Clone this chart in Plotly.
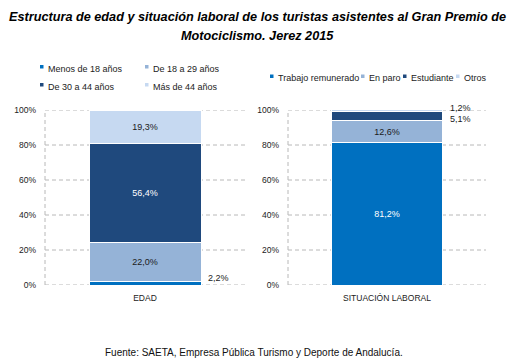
import plotly.graph_objects as go

W, H = 514, 362

title_lines = ["Estructura de edad y situación laboral de los turistas asistentes al Gran Premio de",
               "Motociclismo. Jerez 2015"]
source_text = "Fuente: SAETA, Empresa Pública Turismo y Deporte de Andalucía."

edad_categories = ["EDAD"]
edad_series = ["Menos de 18 años", "De 18 a 29 años", "De 30 a 44 años", "Más de 44 años"]
edad_values = [2.2, 22.0, 56.4, 19.3]

laboral_categories = ["SITUACIÓN LABORAL"]
laboral_series = ["Trabajo remunerado", "En paro", "Estudiante", "Otros"]
laboral_values = [81.2, 12.6, 5.1, 1.2]

y_ticks = [0, 20, 40, 60, 80, 100]
y_tick_labels = [f"{t}%" for t in y_ticks]

colors = ["#0070C0", "#95B3D7", "#1F497D", "#C6D9F1"]
text_colors = ["#ffffff", "#1a1a1a", "#ffffff", "#1a1a1a"]
SANS = "Liberation Sans"
GRID = "#b8b8b8"


def px(x):
    return x / W


def py(y):
    return 1 - y / H


def fmt(v):
    return f"{v:.1f}%".replace(".", ",")


fig = go.Figure()
annotations = []
shapes = []

panels = [
    (edad_categories, edad_series, edad_values, "x", "y"),
    (laboral_categories, laboral_series, laboral_values, "x2", "y2"),
]
# outside-label vertical shifts (px) for small segments
small_shift = {("x", 0): 5, ("x2", 2): -3, ("x2", 3): 3}

for cats, names, vals, xa, ya in panels:
    cum = 0
    for i, (name, v) in enumerate(zip(names, vals)):
        inside = v >= 10
        fig.add_trace(go.Bar(
            x=cats, y=[v], name=name, xaxis=xa, yaxis=ya,
            marker=dict(color=colors[i], line=dict(color="white", width=1)),
            text=[fmt(v)] if inside else None,
            textposition="inside" if inside else "none",
            insidetextanchor="middle", textangle=0,
            textfont=dict(family=SANS, size=9, color=text_colors[i]),
            showlegend=False, hoverinfo="skip",
        ))
        if not inside:
            annotations.append(dict(
                x=cats[0], y=cum + v / 2, xref=xa, yref=ya,
                text=fmt(v), showarrow=False, xanchor="left", yanchor="middle",
                xshift=61, yshift=small_shift.get((xa, i), 0),
                font=dict(family=SANS, size=9, color="#1a1a1a"),
            ))
        cum += v

axis_common = dict(type="category", showgrid=False, showline=False, ticks="",
                   ticklabelstandoff=6,
                   tickfont=dict(family=SANS, size=8.5, color="#222"), automargin=False)
yaxis_common = dict(range=[0, 100], tickmode="array", tickvals=y_ticks, ticktext=y_tick_labels,
                    showgrid=False, zeroline=False, showline=False, ticks="", ticklabelstandoff=8,
                    tickfont=dict(family=SANS, size=8.5, color="#222"), automargin=False,
                    domain=[py(285), py(110)])

fig.update_layout(
    width=W, height=H, autosize=False,
    margin=dict(l=0, r=0, t=0, b=0),
    paper_bgcolor="white", plot_bgcolor="white",
    barmode="stack", bargap=0.44,
    separators=",.",
    xaxis=dict(domain=[px(45), px(245)], anchor="y", **axis_common),
    yaxis=dict(anchor="x", **yaxis_common),
    xaxis2=dict(domain=[px(288), px(486)], anchor="y2", **axis_common),
    yaxis2=dict(anchor="x2", **yaxis_common),
)

# dashed gridlines and dashed left border of each plot area
for xa, ya in [("x", "y"), ("x2", "y2")]:
    for t in y_ticks:
        shapes.append(dict(type="line", xref=f"{xa} domain", yref=ya, x0=0, x1=1, y0=t, y1=t,
                           line=dict(color=GRID, width=1, dash="4px,3px"), layer="below"))
    shapes.append(dict(type="line", xref=f"{xa} domain", yref=ya, x0=0, x1=0, y0=0, y1=100,
                       line=dict(color=GRID, width=1, dash="4px,3px"), layer="below"))

# Title
for txt, yy in zip(title_lines, [17, 36]):
    annotations.append(dict(x=0.5, y=py(yy), xref="paper", yref="paper", text=f"<b><i>{txt}</i></b>",
                            showarrow=False, xanchor="center", yanchor="middle",
                            font=dict(family=SANS, size=12.7, color="black")))

# Source
annotations.append(dict(x=px(254), y=py(352), xref="paper", yref="paper", text=source_text,
                        showarrow=False, xanchor="center", yanchor="middle",
                        font=dict(family=SANS, size=10, color="#111")))


# Legends (marker squares + text)
def legend_item(tx, cy, name, color):
    shapes.append(dict(type="rect", xref="paper", yref="paper",
                       x0=px(tx - 6), x1=px(tx - 2.5), y0=py(cy - 0.5), y1=py(cy - 4),
                       fillcolor=color, line=dict(width=0)))
    annotations.append(dict(x=px(tx), y=py(cy), xref="paper", yref="paper", text=name,
                            showarrow=False, xanchor="left", yanchor="middle",
                            font=dict(family=SANS, size=9, color="#222")))


left_pos = [(46, 69), (151, 69), (46, 87), (151, 87)]
for (tx, cy), name, c in zip(left_pos, edad_series, colors):
    legend_item(tx, cy, name, c)

right_x = [276, 367, 409, 462]
for tx, name, c in zip(right_x, laboral_series, colors):
    legend_item(tx, 78.5, name, c)

fig.update_layout(annotations=annotations, shapes=shapes)
fig.write_html("out.html", config={"displayModeBar": False},
               post_script="document.body.style.margin='0';document.body.style.overflow='hidden';")
